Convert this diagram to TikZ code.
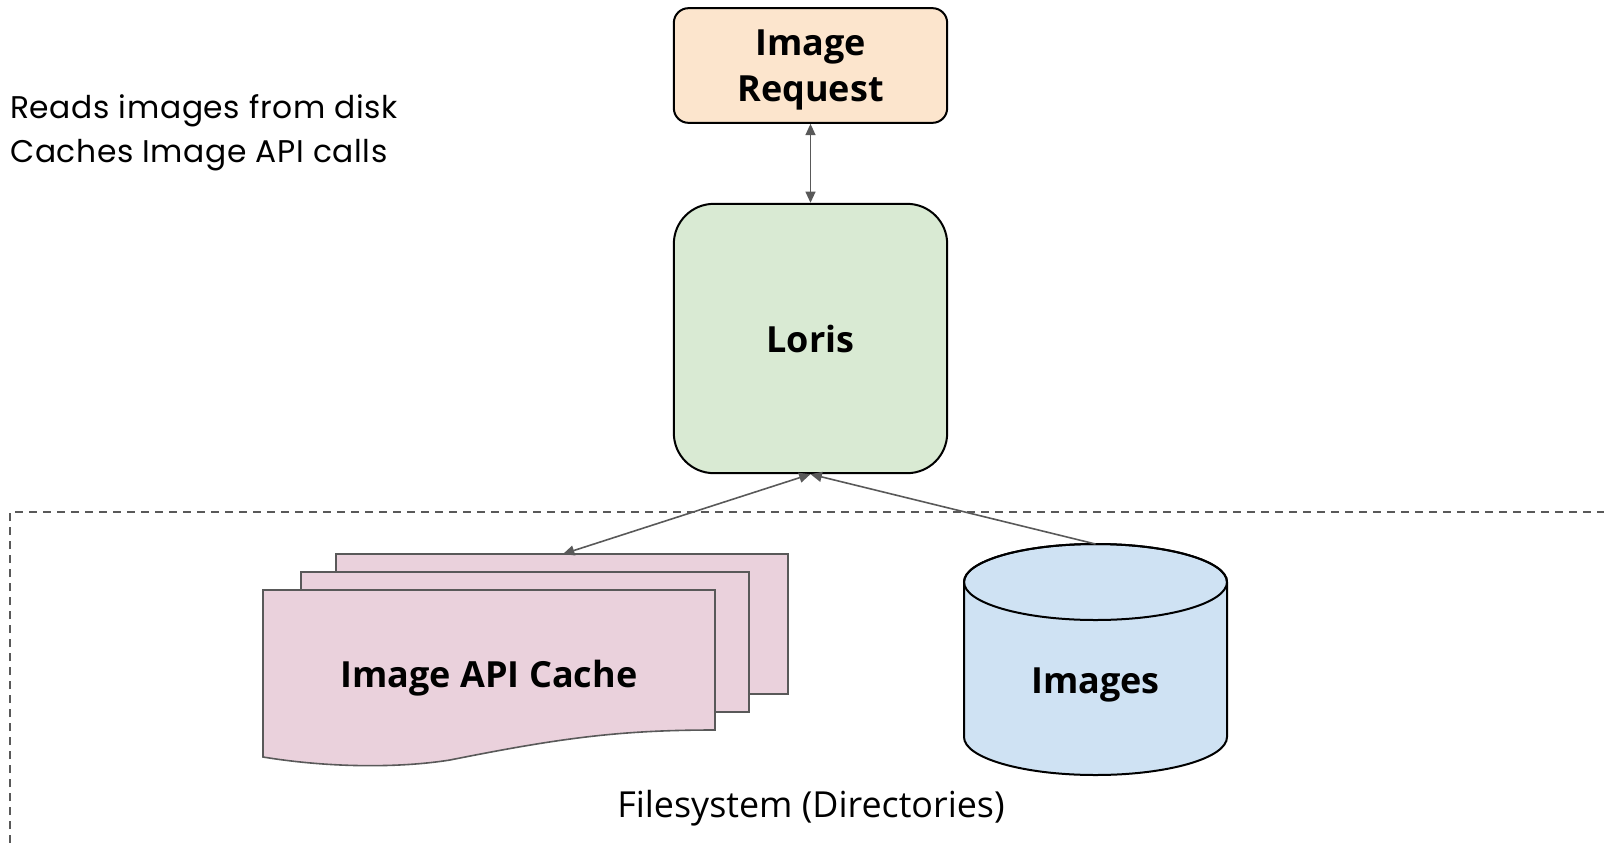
\documentclass[tikz,border=0pt]{standalone}
\usepackage{fontspec}
\setmainfont{Open Sans}
\newfontfamily\notefont{Poppins}[LetterSpace=2]
\usetikzlibrary{arrows.meta}

\definecolor{reqpeach}{HTML}{FCE5CD}
\definecolor{lorisgreen}{HTML}{D9EAD3}
\definecolor{cachepink}{HTML}{EAD1DC}
\definecolor{imgblue}{HTML}{CFE2F3}
\definecolor{linegray}{HTML}{595959}

\tikzset{
	box/.style={draw=black, line width=1.5pt, align=center,
		font=\bfseries\fontsize{27}{34}\selectfont},
	note/.style={anchor=base west, inner sep=0pt,
		font=\notefont\fontsize{23.5}{26}\selectfont},
	sheet/.style={draw=linegray, line width=1.2pt, fill=cachepink},
	link/.style={draw=linegray, line width=1.2pt,
		{Triangle[length=8.5pt,width=7.5pt]}-{Triangle[length=8.5pt,width=7.5pt]}},
	onelink/.style={draw=linegray, line width=1.2pt,
		-{Triangle[length=8.5pt,width=7.5pt]}}
}

\begin{document}
\begin{tikzpicture}[x=0.75pt,y=-0.75pt]
	\useasboundingbox (0,0) rectangle (1604,843);

	% notes
	\node[note] (reads) at (10,118) {Reads images from disk};
	\node[note] (caches) at (10,162) {Caches Image API calls};

	% filesystem frame
	\draw[linegray, line width=1.1pt, dash pattern=on 6pt off 4.5pt]
		(10,843) -- (10,512) -- (1604,512);
	\node[anchor=base, font=\fontsize{26.9}{30}\selectfont] (fs) at (811,817)
		{Filesystem (Directories)};

	% request and loris
	\node[box, fill=reqpeach, rounded corners=11pt, minimum width=205pt,
		minimum height=86pt, text depth=0pt]
		(request) at (810.5,65.5) {Image\\Request};
	\node[box, fill=lorisgreen, rounded corners=30pt, minimum width=205pt,
		minimum height=202pt] (loris) at (810.5,338.5) {Loris};

	% cache stack
	\draw[sheet] (336,554) rectangle (788,694);
	\draw[sheet] (301,572) rectangle (749,712);
	\draw[sheet] (263,590) -- (715,590) -- (715,730)
		.. controls (620,730) and (560,738) .. (450,760)
		.. controls (400,768) and (330,768) .. (263,757) -- cycle;
	\node[box, draw=none, anchor=base] (cache) at (489,687) {Image API Cache};
	\coordinate (cachetop) at (563,554);

	% images cylinder
	\path[fill=imgblue, draw=black, line width=1.5pt] (964,582) -- (964,737)
		arc[start angle=180, end angle=0, x radius=131.5, y radius=38]
		-- (1227,582)
		arc[start angle=0, end angle=-180, x radius=131.5, y radius=38] -- cycle;
	\draw[line width=1.5pt] (1095.5,582) ellipse [x radius=131.5, y radius=38];
	\node[box, draw=none, anchor=base] (images) at (1095.5,693) {Images};
	\coordinate (imagestop) at (1095.5,544);

	% connectors
	\draw[link] (request) -- (loris);
	\draw[link] (loris.south) -- (cachetop);
	\draw[onelink] (imagestop) -- (loris.south);
\end{tikzpicture}
\end{document}
